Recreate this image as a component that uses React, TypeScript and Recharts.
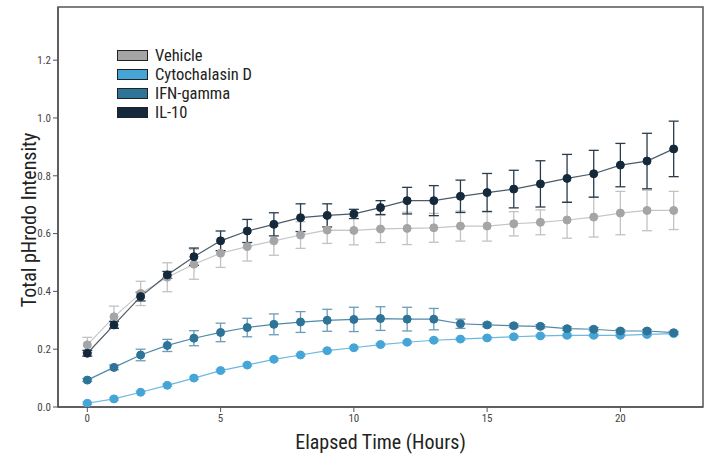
import {
  LineChart, Line, XAxis, YAxis, ErrorBar, ReferenceArea,
} from 'recharts';

const hours = [0, 1, 2, 3, 4, 5, 6, 7, 8, 9, 10, 11, 12, 13, 14, 15, 16, 17, 18, 19, 20, 21, 22];

const vehicle = [0.215, 0.312, 0.393, 0.449, 0.494, 0.532, 0.555, 0.575, 0.595, 0.612, 0.611, 0.616, 0.618, 0.620, 0.626, 0.626, 0.634, 0.639, 0.647, 0.657, 0.671, 0.680, 0.680];
const vehicleErr = [0.026, 0.037, 0.042, 0.05, 0.052, 0.049, 0.05, 0.05, 0.046, 0.046, 0.05, 0.047, 0.056, 0.05, 0.052, 0.052, 0.042, 0.043, 0.063, 0.069, 0.075, 0.07, 0.066];

const cyto = [0.013, 0.028, 0.051, 0.075, 0.1, 0.126, 0.145, 0.165, 0.18, 0.195, 0.205, 0.216, 0.224, 0.231, 0.235, 0.239, 0.243, 0.246, 0.248, 0.248, 0.248, 0.251, 0.254];
const cytoErr = [0.004, 0.004, 0.004, 0.004, 0.004, 0.004, 0.004, 0.004, 0.004, 0.004, 0.004, 0.004, 0.004, 0.004, 0.004, 0.004, 0.004, 0.004, 0.004, 0.004, 0.004, 0.004, 0.004];

const ifn = [0.093, 0.137, 0.18, 0.213, 0.238, 0.258, 0.275, 0.286, 0.294, 0.3, 0.303, 0.306, 0.304, 0.304, 0.288, 0.284, 0.281, 0.279, 0.271, 0.269, 0.263, 0.263, 0.257];
const ifnErr = [0.005, 0.008, 0.02, 0.021, 0.026, 0.032, 0.032, 0.036, 0.036, 0.038, 0.042, 0.041, 0.041, 0.037, 0.016, 0.006, 0.006, 0.006, 0.006, 0.006, 0.005, 0.005, 0.005];

const il10 = [0.186, 0.284, 0.382, 0.457, 0.52, 0.575, 0.609, 0.632, 0.655, 0.663, 0.668, 0.69, 0.714, 0.714, 0.729, 0.742, 0.754, 0.772, 0.791, 0.807, 0.837, 0.851, 0.893];
const il10Err = [0.01, 0.012, 0.015, 0.012, 0.03, 0.034, 0.04, 0.04, 0.048, 0.04, 0.016, 0.024, 0.046, 0.052, 0.056, 0.066, 0.065, 0.08, 0.083, 0.081, 0.075, 0.096, 0.096];

const xTicks = [0, 5, 10, 15, 20];
const yTicks = [0, 0.2, 0.4, 0.6, 0.8, 1.0, 1.2];

const SERIES = [
  { key: 'vehicle', name: 'Vehicle', marker: '#a5a5a5', line: '#c6c6c6', err: '#c2c2c2' },
  { key: 'cyto', name: 'Cytochalasin D', marker: '#45a5d6', line: '#6bb8e0', err: '#7cc0e3' },
  { key: 'ifn', name: 'IFN-gamma', marker: '#2e7398', line: '#4f8aab', err: '#6b9db9' },
  { key: 'il10', name: 'IL-10', marker: '#14293c', line: '#4b5b68', err: '#2a3b4b' },
];

const data = hours.map((t, i) => ({
  t,
  vehicle: vehicle[i], vehicleErr: vehicleErr[i],
  cyto: cyto[i], cytoErr: cytoErr[i],
  ifn: ifn[i], ifnErr: ifnErr[i],
  il10: il10[i], il10Err: il10Err[i],
}));

const FONT = '"Liberation Sans Narrow", "Roboto Condensed", "Liberation Sans", Arial, sans-serif';

// legend drawn outside recharts so it doesn't eat into the plot area
function LegendBox() {
  return (
    <div style={{ position: 'absolute', left: 117, top: 46, fontFamily: FONT, fontSize: 16.5, color: '#222' }}>
      {SERIES.map((s) => (
        <div key={s.key} style={{ display: 'flex', alignItems: 'center', height: 19 }}>
          <div style={{ width: 29, height: 9, background: s.marker, border: '1px solid #222', marginRight: 7 }} />
          <span>{s.name}</span>
        </div>
      ))}
    </div>
  );
}

function YTitle() {
  return (
    <text x={29} y={220} transform="rotate(-90 29 220)" textAnchor="middle" dominantBaseline="central"
      fill="#222" fontSize={20} fontFamily={FONT}>
      Total pHrodo Intensity
    </text>
  );
}

export default function App() {
  return (
    <div style={{ position: 'absolute', left: 0, top: 0, width: 710, height: 454, background: '#fff' }}>
      <LineChart width={710} height={454} data={data} margin={{ top: 7, right: 7, left: 0, bottom: 0 }}>
        <XAxis
          dataKey="t"
          type="number"
          domain={[-1.1, 23.1]}
          ticks={xTicks}
          allowDataOverflow
          height={47}
          tickSize={5}
          axisLine={{ stroke: '#555', strokeWidth: 1.5 }}
          tickLine={{ stroke: '#555' }}
          tick={{ fill: '#444', fontSize: 11, fontFamily: FONT }}
          label={{ value: 'Elapsed Time (Hours)', position: 'insideBottom', offset: 5, fill: '#222', fontSize: 20, fontFamily: FONT }}
        />
        <YAxis
          type="number"
          domain={[0, 1.384]}
          ticks={yTicks}
          allowDataOverflow
          width={58}
          tickSize={5}
          axisLine={{ stroke: '#555', strokeWidth: 1.5 }}
          tickLine={{ stroke: '#555' }}
          tickFormatter={(v: number) => v.toFixed(1)}
          tick={{ fill: '#444', fontSize: 11, fontFamily: FONT }}
          label={{ content: () => <YTitle /> }}
        />
        <ReferenceArea x1={-1.1} x2={23.1} y1={0} y2={1.384} fill="none" stroke="#555" strokeWidth={1.5} />
        {SERIES.map((s) => (
          <Line
            key={s.key}
            dataKey={s.key}
            name={s.name}
            type="linear"
            stroke={s.line}
            strokeWidth={1.2}
            dot={{ r: 4, fill: s.marker, stroke: s.marker, strokeWidth: 1 }}
            activeDot={false}
            isAnimationActive={false}
          >
            <ErrorBar dataKey={`${s.key}Err`} width={5} stroke={s.err} strokeWidth={1.3} direction="y" />
          </Line>
        ))}
      </LineChart>
      <LegendBox />
    </div>
  );
}
